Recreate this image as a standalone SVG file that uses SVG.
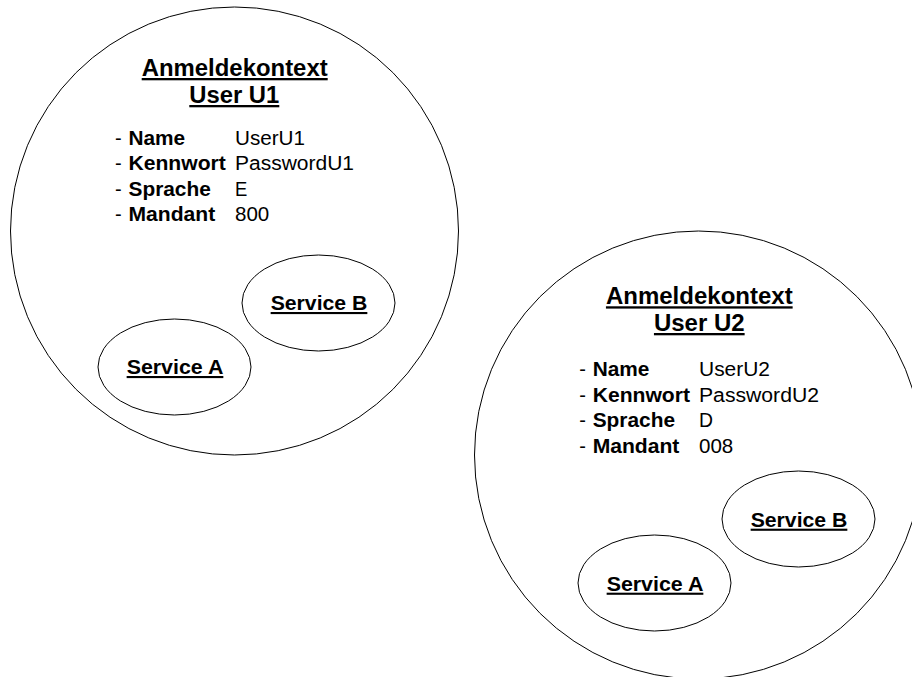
<svg xmlns="http://www.w3.org/2000/svg" width="912" height="677" viewBox="0 0 912 677">
<style>
.ring{fill:none;stroke:#000;stroke-width:1}
.svc{fill:#fff;stroke:#000;stroke-width:1}
text{font-family:"Liberation Sans",Arial,sans-serif;fill:#000}
.title{font-size:23px;font-weight:bold;text-decoration:underline;text-anchor:middle}
.svct{font-size:21px;font-weight:bold;text-decoration:underline;text-anchor:middle}
.lbl{font-size:20px;font-weight:bold}
.val{font-size:20px}
</style>
<rect width="912" height="677" fill="#fff"/>
<g id="ctx1">
<circle class="ring" cx="234.5" cy="231" r="224"/>
<text class="title" x="234.7" y="76" textLength="186" lengthAdjust="spacingAndGlyphs">Anmeldekontext</text>
<text class="title" x="234.3" y="103" textLength="90" lengthAdjust="spacingAndGlyphs">User U1</text>
<text class="val" x="115" y="144.5">-</text>
<text class="lbl" x="128.5" y="144.5" textLength="56.7" lengthAdjust="spacingAndGlyphs">Name</text>
<text class="val" x="235" y="144.5" textLength="70" lengthAdjust="spacingAndGlyphs">UserU1</text>
<text class="val" x="115" y="170">-</text>
<text class="lbl" x="128.5" y="170" textLength="97.3" lengthAdjust="spacingAndGlyphs">Kennwort</text>
<text class="val" x="235" y="170" textLength="119" lengthAdjust="spacingAndGlyphs">PasswordU1</text>
<text class="val" x="115" y="195.5">-</text>
<text class="lbl" x="128.5" y="195.5" textLength="82.3" lengthAdjust="spacingAndGlyphs">Sprache</text>
<text class="val" x="235" y="195.5" textLength="12.3" lengthAdjust="spacingAndGlyphs">E</text>
<text class="val" x="115" y="221">-</text>
<text class="lbl" x="128.5" y="221" textLength="86.7" lengthAdjust="spacingAndGlyphs">Mandant</text>
<text class="val" x="235" y="221" textLength="34.3" lengthAdjust="spacingAndGlyphs">800</text>
</g>
<g id="ctx1-serviceB">
<ellipse class="svc" cx="318.5" cy="303" rx="76.5" ry="48"/>
<text class="svct" x="319" y="310" textLength="96.7" lengthAdjust="spacingAndGlyphs">Service B</text>
</g>
<g id="ctx1-serviceA">
<ellipse class="svc" cx="174.5" cy="367" rx="76.5" ry="48"/>
<text class="svct" x="175" y="374" textLength="96.7" lengthAdjust="spacingAndGlyphs">Service A</text>
</g>
<g id="ctx2">
<circle class="ring" cx="698.5" cy="455" r="224"/>
<text class="title" x="699.3" y="304.3" textLength="186.7" lengthAdjust="spacingAndGlyphs">Anmeldekontext</text>
<text class="title" x="699.3" y="331" textLength="90.7" lengthAdjust="spacingAndGlyphs">User U2</text>
<text class="val" x="579.3" y="376">-</text>
<text class="lbl" x="592.7" y="376" textLength="56.7" lengthAdjust="spacingAndGlyphs">Name</text>
<text class="val" x="699" y="376" textLength="71" lengthAdjust="spacingAndGlyphs">UserU2</text>
<text class="val" x="579.3" y="401.5">-</text>
<text class="lbl" x="592.7" y="401.5" textLength="97.3" lengthAdjust="spacingAndGlyphs">Kennwort</text>
<text class="val" x="699" y="401.5" textLength="120" lengthAdjust="spacingAndGlyphs">PasswordU2</text>
<text class="val" x="579.3" y="427">-</text>
<text class="lbl" x="592.7" y="427" textLength="82.3" lengthAdjust="spacingAndGlyphs">Sprache</text>
<text class="val" x="699" y="427" textLength="14" lengthAdjust="spacingAndGlyphs">D</text>
<text class="val" x="579.3" y="452.5">-</text>
<text class="lbl" x="592.7" y="452.5" textLength="86.7" lengthAdjust="spacingAndGlyphs">Mandant</text>
<text class="val" x="699" y="452.5" textLength="34.3" lengthAdjust="spacingAndGlyphs">008</text>
</g>
<g id="ctx2-serviceB">
<ellipse class="svc" cx="798.5" cy="519" rx="76.5" ry="48"/>
<text class="svct" x="799" y="526.7" textLength="96.7" lengthAdjust="spacingAndGlyphs">Service B</text>
</g>
<g id="ctx2-serviceA">
<ellipse class="svc" cx="654.5" cy="583" rx="76.5" ry="48"/>
<text class="svct" x="655" y="590.7" textLength="96.7" lengthAdjust="spacingAndGlyphs">Service A</text>
</g>
<g id="connectors"></g>
</svg>
